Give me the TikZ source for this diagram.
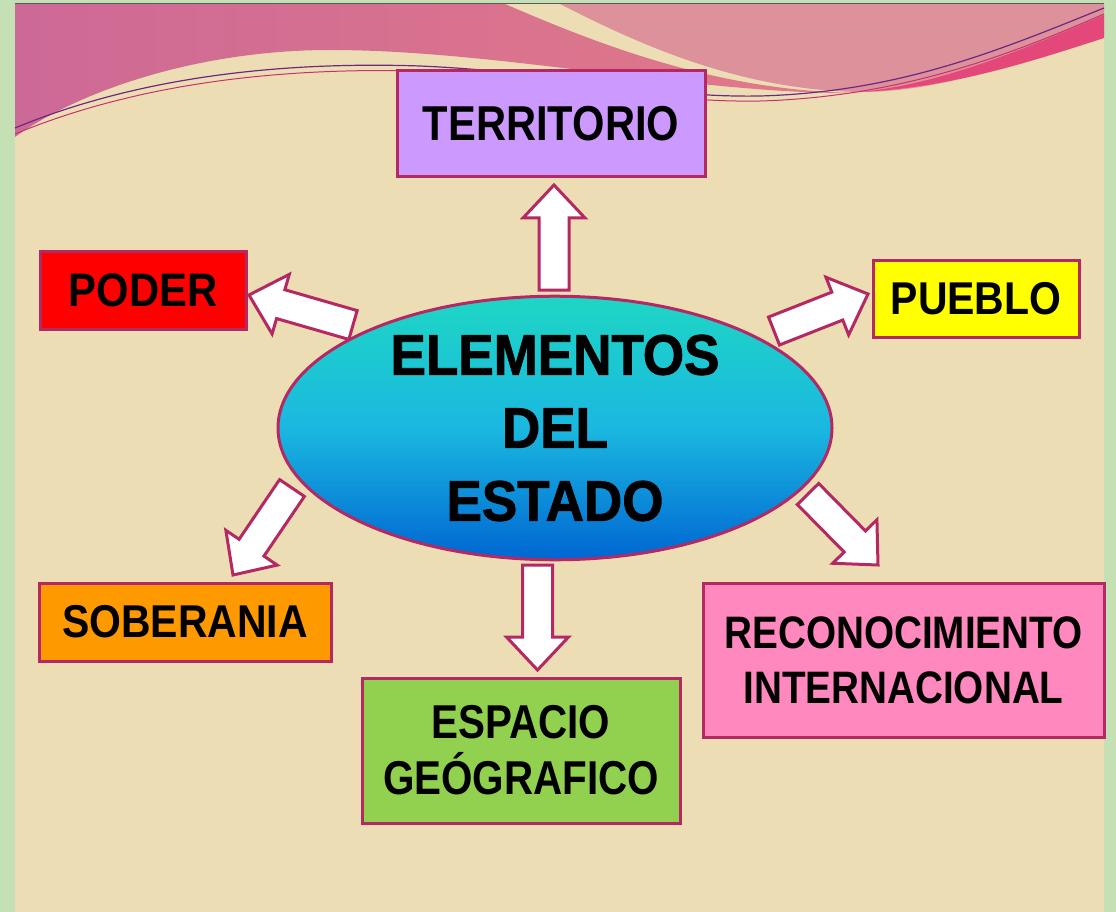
\documentclass[tikz,border=0pt]{standalone}
\usepackage{fontspec}
\newfontfamily\condA[FakeStretch=0.85]{Liberation Sans}
\newfontfamily\condB[FakeStretch=0.89]{Liberation Sans}
\newfontfamily\condE[FakeStretch=0.93,BoldFeatures={FakeBold=1.5}]{Liberation Sans}
\usetikzlibrary{calc,shapes.geometric}
\definecolor{frameg}{RGB}{197,224,180}
\definecolor{paper}{RGB}{237,221,180}
\definecolor{bord}{RGB}{180,40,100}
\definecolor{lav}{RGB}{204,153,255}
\definecolor{cred}{RGB}{255,0,0}
\definecolor{cyel}{RGB}{255,255,0}
\definecolor{corg}{RGB}{255,153,0}
\definecolor{cgrn}{RGB}{146,208,80}
\definecolor{cpnk}{RGB}{255,136,190}
\definecolor{elltop}{RGB}{30,214,196}
\definecolor{ellmid}{RGB}{26,184,224}
\definecolor{ellbot}{RGB}{0,102,210}
\definecolor{shd}{RGB}{90,90,90}
\definecolor{pinkL}{RGB}{205,105,150}
\definecolor{pinkR}{RGB}{226,122,136}
\definecolor{pinkB}{RGB}{220,145,155}
\definecolor{pinkD}{RGB}{228,72,122}
\definecolor{lineP}{RGB}{110,40,130}
\definecolor{lineM}{RGB}{200,50,110}
\newcommand{\blockarrow}[2]{%
  \coordinate (hb) at ($(#2)!33pt!(#1)$);
  \draw[barrow] ($(#1)!15pt!90:(#2)$) -- ($(hb)!15pt!90:(#2)$) -- ($(hb)!31pt!90:(#2)$)
    -- (#2) -- ($(hb)!31pt!-90:(#2)$) -- ($(hb)!15pt!-90:(#2)$) -- ($(#1)!15pt!-90:(#2)$) -- cycle;}
\tikzset{
  box/.style={draw=bord, line width=3pt, inner sep=0pt, align=center, text=black},
  barrow/.style={draw=bord, fill=white, line width=3pt, line join=miter},
}
\begin{document}
\begin{tikzpicture}[x=1pt,y=-1pt]
\useasboundingbox (0,0) rectangle (1116,912);
\fill[frameg] (0,0) rectangle (1116,912);
\fill[paper] (15,4) rectangle (1104,912);
% banner
\shade[left color=pinkL, right color=pinkR] (15,4) -- (505,4) .. controls (600,45) and (720,92) .. (860,93)
  .. controls (700,95) and (500,50) .. (330,50) .. controls (200,50) and (80,90) .. (15,137) -- cycle;
\fill[pinkB] (560,4) -- (1104,4) -- (1104,35) .. controls (1000,70) and (930,92) .. (860,92)
  .. controls (740,90) and (640,45) .. (560,4) -- cycle;
\fill[pinkD] (1104,15) .. controls (1000,60) and (930,85) .. (860,92) .. controls (950,88) and (1030,62) .. (1104,38) -- cycle;
\draw[lineP, line width=1.2pt] (15,128) .. controls (150,72) and (300,62) .. (420,66) .. controls (560,72) and (650,98) .. (760,96) .. controls (900,92) and (1000,50) .. (1104,8);
\draw[lineM, line width=1pt] (15,134) .. controls (150,78) and (300,68) .. (420,71) .. controls (560,77) and (650,103) .. (760,101) .. controls (900,97) and (1010,55) .. (1104,14);
\draw[shd, line width=1pt] (15,3.5) -- (1104,3.5);
% central ellipse
\node[ellipse, draw=bord, line width=3pt, top color=elltop, bottom color=ellbot, middle color=ellmid,
  minimum width=554pt, minimum height=258pt, inner sep=0pt, align=center,
  font=\condE\bfseries\fontsize{57}{73}\selectfont] (est) at (555,428)
  {ELEMENTOS\\DEL\\ESTADO};
% boxes
\node[box, fill=lav, minimum width=308pt, minimum height=106pt, font=\condA\bfseries\fontsize{49}{58}\selectfont] (terr) at (551,124) {TERRITORIO};
\node[box, fill=cred, minimum width=206pt, minimum height=78pt, font=\condB\bfseries\fontsize{47}{56}\selectfont] (pod) at (143,290) {PODER};
\node[box, fill=cyel, minimum width=206pt, minimum height=77pt, font=\condB\bfseries\fontsize{46}{56}\selectfont] (pue) at (976,298.5) {PUEBLO};
\node[box, fill=corg, minimum width=292pt, minimum height=78pt, font=\condB\bfseries\fontsize{46}{56}\selectfont] (sob) at (185,622) {SOBERANIA};
\node[box, fill=cgrn, minimum width=318pt, minimum height=145pt, font=\condA\bfseries\fontsize{47.5}{56}\selectfont] (esp) at (521,750.5) {ESPACIO\\GEÓGRAFICO};
\node[box, fill=cpnk, minimum width=401pt, minimum height=154pt, font=\condA\bfseries\fontsize{45.5}{55}\selectfont] (rec) at (903.5,660) {RECONOCIMIENTO\\INTERNACIONAL};
% arrows
\coordinate (a1b) at (554,290); \coordinate (a1t) at (554,185);
\coordinate (a2b) at (537.5,565); \coordinate (a2t) at (537.5,670);
\coordinate (a3b) at (353,325); \coordinate (a3t) at (249,295);
\coordinate (a4b) at (774,331); \coordinate (a4t) at (868,294);
\coordinate (a5b) at (292,488); \coordinate (a5t) at (233,575);
\coordinate (a6b) at (808,494); \coordinate (a6t) at (878,565);
\blockarrow{a1b}{a1t}
\blockarrow{a2b}{a2t}
\blockarrow{a3b}{a3t}
\blockarrow{a4b}{a4t}
\blockarrow{a5b}{a5t}
\blockarrow{a6b}{a6t}
\end{tikzpicture}
\end{document}
